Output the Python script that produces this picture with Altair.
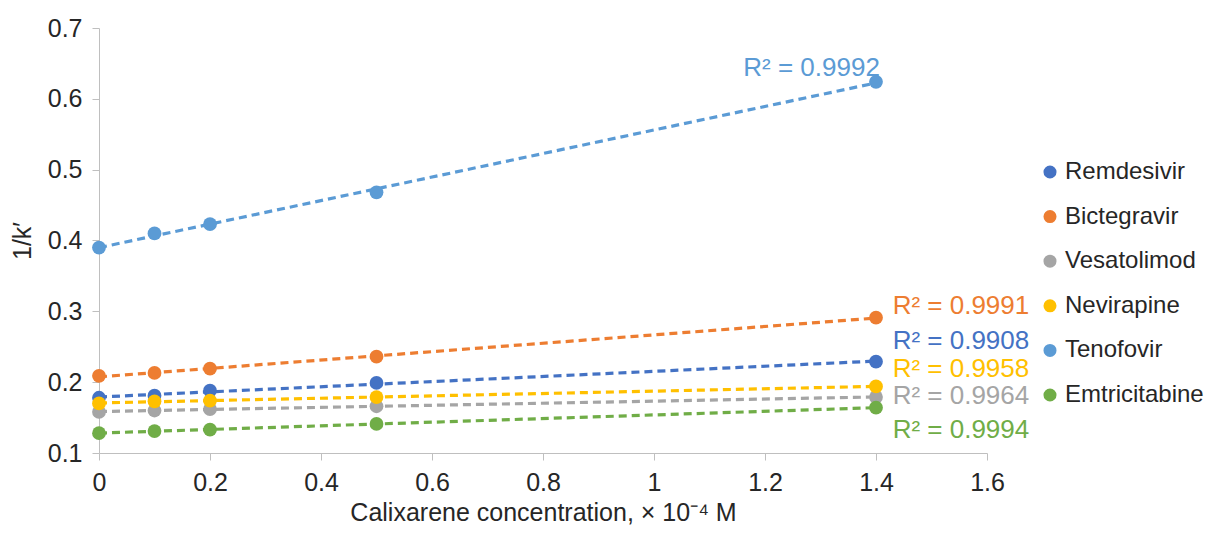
import altair as alt
import pandas as pd

drugs = ["Remdesivir", "Bictegravir", "Vesatolimod", "Nevirapine", "Tenofovir", "Emtricitabine"]
colors = ["#4472C4", "#ED7D31", "#A5A5A5", "#FFC000", "#5B9BD5", "#70AD47"]
conc = [0, 0.1, 0.2, 0.5, 1.4]

remdesivir = [0.178, 0.181, 0.188, 0.199, 0.229]
bictegravir = [0.209, 0.213, 0.219, 0.236, 0.291]
vesatolimod = [0.158, 0.160, 0.162, 0.166, 0.179]
nevirapine = [0.170, 0.173, 0.174, 0.179, 0.194]
tenofovir = [0.390, 0.410, 0.423, 0.468, 0.624]
emtricitabine = [0.128, 0.131, 0.133, 0.141, 0.164]

r2_labels = ["R² = 0.9908", "R² = 0.9991", "R² = 0.9964", "R² = 0.9958", "R² = 0.9992", "R² = 0.9994"]

series = [remdesivir, bictegravir, vesatolimod, nevirapine, tenofovir, emtricitabine]
rows = []
for d, vals in zip(drugs, series):
    for x, y in zip(conc, vals):
        rows.append({"drug": d, "x": x, "y": y})
df = pd.DataFrame(rows)

# annotation anchor positions (data units)
label_pos = {
    "Remdesivir": (1.43, 0.2575),
    "Bictegravir": (1.43, 0.3073),
    "Vesatolimod": (1.43, 0.180),
    "Nevirapine": (1.43, 0.2190),
    "Tenofovir": (1.407, 0.6435),
    "Emtricitabine": (1.43, 0.132),
}
lab = pd.DataFrame([
    {"drug": d, "label": r, "lx": label_pos[d][0], "ly": label_pos[d][1]}
    for d, r in zip(drugs, r2_labels)
])

FONT = "Liberation Sans"
TXT = "#262626"
cscale = alt.Scale(domain=drugs, range=colors)
legend = alt.Legend(title=None, orient="none", legendX=939, legendY=132,
                    labelFontSize=24, labelColor=TXT, labelFont=FONT,
                    symbolType="circle", symbolSize=170, symbolStrokeWidth=0,
                    rowPadding=20.6, labelOffset=3)
color = alt.Color("drug:N", scale=cscale, legend=legend)

xs = alt.X("x:Q", scale=alt.Scale(domain=[0, 1.6], nice=False),
           axis=alt.Axis(title="Calixarene concentration, × 10⁻⁴ M", values=[0, 0.2, 0.4, 0.6, 0.8, 1, 1.2, 1.4, 1.6],
                         format="~g", labelFlush=False,
                         grid=False, domainColor="#bfbfbf", tickColor="#bfbfbf", tickSize=7,
                         labelFontSize=25, labelColor=TXT, labelFont=FONT, labelPadding=10,
                         titleFontSize=25, titleFont=FONT, titleColor=TXT, titleFontWeight="normal",
                         titlePadding=5))
ys = alt.Y("y:Q", scale=alt.Scale(domain=[0.1, 0.7], nice=False, zero=False),
           axis=alt.Axis(title="1/k′", values=[0.1, 0.2, 0.3, 0.4, 0.5, 0.6, 0.7], format=".1f",
                         labelFlush=False,
                         grid=False, domainColor="#bfbfbf", tickColor="#bfbfbf", tickSize=7,
                         labelFontSize=25, labelColor=TXT, labelFont=FONT, labelPadding=10,
                         titleFontSize=25, titleFont=FONT, titleColor=TXT, titleFontWeight="normal",
                         titlePadding=12))

base = alt.Chart(df)
trend = base.transform_regression("x", "y", groupby=["drug"]).mark_line(
    strokeDash=[8, 5], strokeWidth=3.2
).encode(x=xs, y=ys, color=color)

pts = base.mark_circle(size=190, opacity=1).encode(x=xs, y=ys, color=color)

lab_left = alt.Chart(lab).transform_filter("datum.drug != 'Tenofovir'").mark_text(
    align="left", baseline="middle", fontSize=26, font=FONT
).encode(x=alt.X("lx:Q"), y=alt.Y("ly:Q"), text="label:N", color=color)
lab_right = alt.Chart(lab).transform_filter("datum.drug == 'Tenofovir'").mark_text(
    align="right", baseline="middle", fontSize=26, font=FONT
).encode(x=alt.X("lx:Q"), y=alt.Y("ly:Q"), text="label:N", color=color)

chart = alt.layer(trend, pts, lab_left, lab_right).properties(
    width=888, height=425,
    autosize=alt.AutoSizeParams(type="none"),
    padding={"left": 91, "top": 20, "right": 223, "bottom": 72},
).configure(background="white").configure_view(stroke=None)

chart.save("out.html", embed_options={"renderer": "svg", "actions": False})
